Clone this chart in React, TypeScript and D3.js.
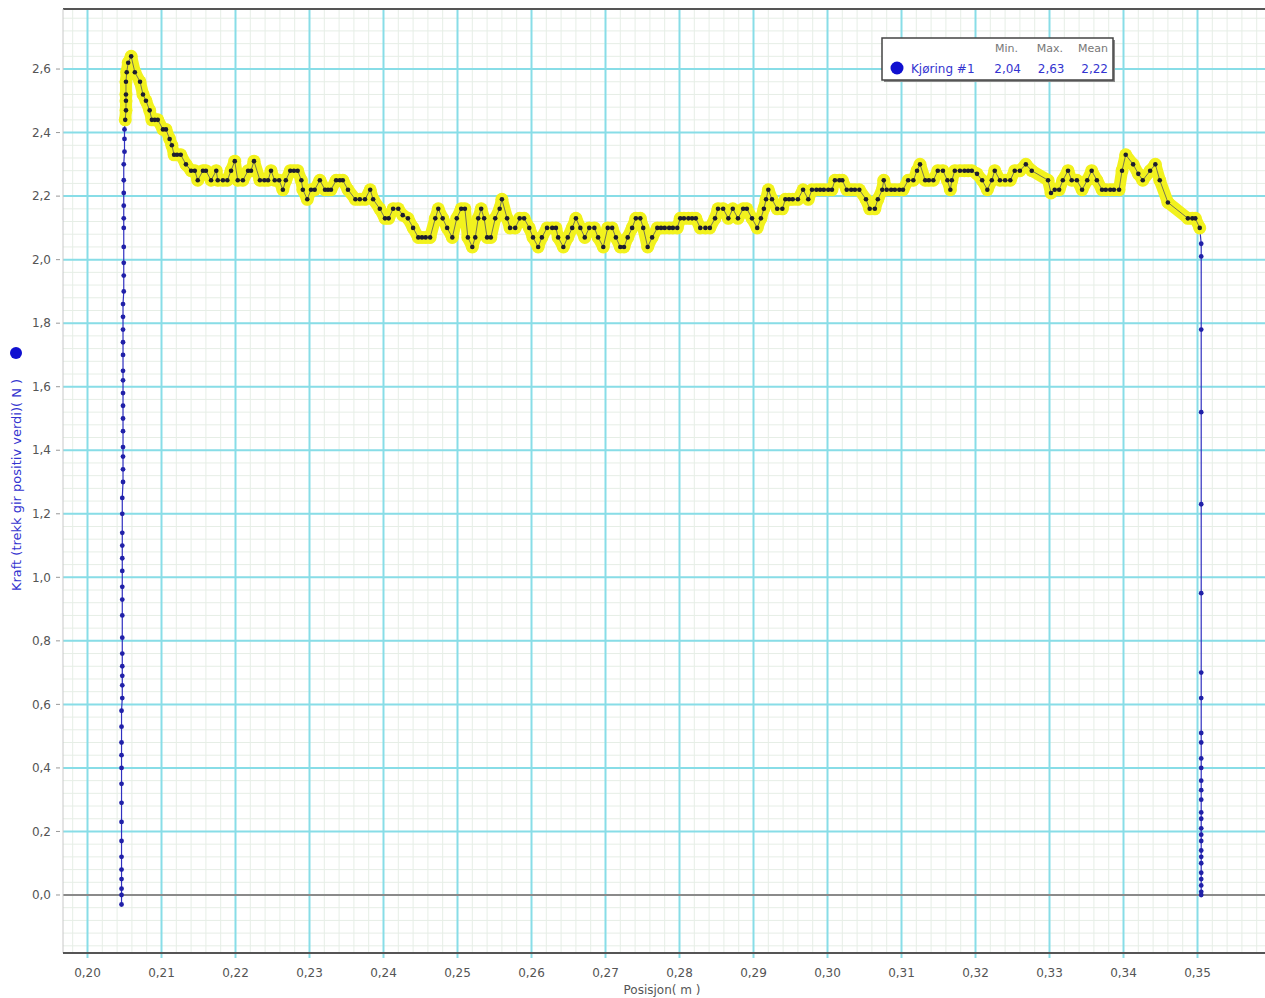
import * as d3 from 'd3'

// position (m) and force (N) samples
const risePos = [
  0.2046, 0.2046, 0.2046, 0.2046, 0.2046, 0.2046, 0.2046, 0.2046, 0.2046, 0.2046, 0.2046, 0.2046, 0.2046, 0.2046, 0.2046,
  0.2047, 0.2047, 0.2047, 0.2047, 0.2047, 0.2047, 0.2047, 0.2047, 0.2047, 0.2047, 0.2047, 0.2047, 0.2047, 0.2047, 0.2047,
  0.2048, 0.2048, 0.2048, 0.2048, 0.2048, 0.2048, 0.2048, 0.2048, 0.2048, 0.2048, 0.2048, 0.2048, 0.2048, 0.2048, 0.2048,
  0.2049, 0.2049, 0.2049, 0.2049, 0.2049, 0.2049, 0.2049, 0.2049, 0.2049, 0.2049, 0.2050, 0.2050, 0.2050,
]
const riseForce = [
  -0.03, 0.0, 0.02, 0.05, 0.08, 0.12, 0.17, 0.23, 0.29, 0.35, 0.4, 0.44, 0.48, 0.53, 0.58,
  0.62, 0.66, 0.69, 0.72, 0.76, 0.81, 0.88, 0.93, 0.97, 1.02, 1.06, 1.1, 1.14, 1.2, 1.25,
  1.3, 1.34, 1.38, 1.41, 1.46, 1.5, 1.54, 1.58, 1.62, 1.65, 1.7, 1.74, 1.78, 1.82, 1.86,
  1.9, 1.95, 1.99, 2.04, 2.1, 2.13, 2.17, 2.21, 2.25, 2.3, 2.34, 2.38, 2.41,
]

const selPos = [
  0.2051, 0.2052, 0.2052, 0.2052, 0.2052, 0.2053, 0.2055, 0.2059, 0.2064, 0.2071,
  0.2075, 0.2079, 0.2084, 0.2087, 0.2091, 0.2095, 0.2102, 0.2106, 0.2111, 0.2114,
  0.2117, 0.2121, 0.2126, 0.2133, 0.214, 0.2145, 0.2149, 0.2156, 0.216, 0.2167,
  0.2174, 0.2176, 0.2183, 0.2189, 0.2194, 0.2199, 0.2203, 0.221, 0.2217, 0.2221,
  0.2225, 0.2233, 0.2239, 0.2244, 0.2248, 0.2253, 0.2259, 0.2264, 0.2268, 0.2274,
  0.2279, 0.2284, 0.2289, 0.2291, 0.2297, 0.2302, 0.2307, 0.2314, 0.2321, 0.2325,
  0.2329, 0.2336, 0.2341, 0.2345, 0.2352, 0.2362, 0.2368, 0.2375, 0.2382, 0.2386,
  0.2395, 0.2402, 0.2407, 0.2413, 0.242, 0.2426, 0.2433, 0.244, 0.2447, 0.2452,
  0.2457, 0.2463, 0.247, 0.2474, 0.248, 0.2486, 0.2493, 0.2499, 0.2505, 0.251,
  0.2514, 0.252, 0.2524, 0.2528, 0.2532, 0.2536, 0.254, 0.2545, 0.2551, 0.2557,
  0.256, 0.2567, 0.2571, 0.2578, 0.2584, 0.259, 0.2597, 0.2602, 0.2609, 0.2614,
  0.2621, 0.2628, 0.2633, 0.2636, 0.2643, 0.2649, 0.2655, 0.266, 0.2666, 0.2672,
  0.2678, 0.2685, 0.269, 0.2697, 0.2703, 0.2709, 0.2714, 0.272, 0.2725, 0.273,
  0.2736, 0.2741, 0.2747, 0.2751, 0.2757, 0.2763, 0.277, 0.2775, 0.278, 0.2786,
  0.2791, 0.2797, 0.2801, 0.2806, 0.2812, 0.2817, 0.2822, 0.2828, 0.2835, 0.2841,
  0.2848, 0.2852, 0.2859, 0.2866, 0.2872, 0.2879, 0.2886, 0.2891, 0.2898, 0.2905,
  0.291, 0.2914, 0.2917, 0.292, 0.2925, 0.2932, 0.2939, 0.2943, 0.2948, 0.2953,
  0.296, 0.2967, 0.2974, 0.2979, 0.2985, 0.299, 0.2995, 0.3001, 0.3006, 0.301,
  0.3016, 0.302, 0.3026, 0.3032, 0.3037, 0.3043, 0.3052, 0.3057, 0.3064, 0.3068,
  0.3074, 0.3076, 0.308, 0.3086, 0.3091, 0.3097, 0.3102, 0.3109, 0.3116, 0.3121,
  0.3125, 0.3132, 0.3137, 0.3143, 0.3149, 0.3156, 0.3162, 0.3166, 0.3168, 0.3172,
  0.3179, 0.3185, 0.319, 0.3195, 0.3202, 0.3209, 0.3216, 0.3222, 0.3226, 0.3233,
  0.324, 0.3247, 0.3253, 0.326, 0.3268, 0.3276, 0.3298, 0.3302, 0.3307, 0.3313,
  0.3318, 0.3325, 0.333, 0.3337, 0.3344, 0.3351, 0.3357, 0.3364, 0.3371, 0.3376,
  0.3382, 0.3387, 0.3394, 0.3398, 0.3403, 0.3413, 0.342, 0.3426, 0.3436, 0.3443,
  0.3449, 0.346, 0.3487, 0.3493, 0.3497, 0.3503,
]
const selForce = [
  2.44, 2.47, 2.5, 2.52, 2.56, 2.59, 2.62, 2.64, 2.59, 2.56,
  2.52, 2.5, 2.47, 2.44, 2.44, 2.44, 2.41, 2.41, 2.38, 2.36,
  2.33, 2.33, 2.33, 2.3, 2.28, 2.28, 2.25, 2.28, 2.28, 2.25,
  2.28, 2.25, 2.25, 2.25, 2.28, 2.31, 2.25, 2.25, 2.28, 2.28,
  2.31, 2.25, 2.25, 2.25, 2.28, 2.25, 2.25, 2.22, 2.25, 2.28,
  2.28, 2.28, 2.25, 2.22, 2.19, 2.22, 2.22, 2.25, 2.22, 2.22,
  2.22, 2.25, 2.25, 2.25, 2.22, 2.19, 2.19, 2.19, 2.22, 2.19,
  2.16, 2.13, 2.13, 2.16, 2.16, 2.14, 2.13, 2.1, 2.07, 2.07,
  2.07, 2.07, 2.13, 2.16, 2.13, 2.1, 2.07, 2.13, 2.16, 2.16,
  2.07, 2.04, 2.07, 2.13, 2.16, 2.13, 2.07, 2.07, 2.13, 2.16,
  2.19, 2.13, 2.1, 2.1, 2.13, 2.13, 2.1, 2.07, 2.04, 2.07,
  2.1, 2.1, 2.1, 2.07, 2.04, 2.07, 2.1, 2.13, 2.1, 2.07,
  2.1, 2.1, 2.07, 2.04, 2.1, 2.1, 2.07, 2.04, 2.04, 2.07,
  2.1, 2.13, 2.13, 2.1, 2.04, 2.07, 2.1, 2.1, 2.1, 2.1,
  2.1, 2.1, 2.13, 2.13, 2.13, 2.13, 2.13, 2.1, 2.1, 2.1,
  2.13, 2.16, 2.16, 2.13, 2.16, 2.13, 2.16, 2.16, 2.13, 2.1,
  2.13, 2.16, 2.19, 2.22, 2.19, 2.16, 2.16, 2.19, 2.19, 2.19,
  2.19, 2.22, 2.19, 2.22, 2.22, 2.22, 2.22, 2.22, 2.22, 2.25,
  2.25, 2.25, 2.22, 2.22, 2.22, 2.22, 2.19, 2.16, 2.16, 2.19,
  2.22, 2.25, 2.22, 2.22, 2.22, 2.22, 2.22, 2.25, 2.25, 2.28,
  2.3, 2.25, 2.25, 2.25, 2.28, 2.28, 2.25, 2.22, 2.25, 2.28,
  2.28, 2.28, 2.28, 2.28, 2.27, 2.25, 2.22, 2.25, 2.28, 2.25,
  2.25, 2.25, 2.28, 2.28, 2.3, 2.28, 2.25, 2.21, 2.22, 2.22,
  2.25, 2.28, 2.25, 2.25, 2.22, 2.25, 2.28, 2.25, 2.22, 2.22,
  2.22, 2.22, 2.22, 2.28, 2.33, 2.3, 2.27, 2.25, 2.28, 2.3,
  2.25, 2.18, 2.13, 2.13, 2.13, 2.1,
]

const dropPos = 0.3505
const dropForce = [
  2.05, 2.01, 1.78, 1.52, 1.23, 0.95, 0.7, 0.62, 0.51, 0.48, 0.43, 0.4, 0.36, 0.33,
  0.3, 0.26, 0.24, 0.21, 0.19, 0.17, 0.14, 0.12, 0.1, 0.07, 0.05, 0.03, 0.01, 0.0,
]

const xTicks = [0.2, 0.21, 0.22, 0.23, 0.24, 0.25, 0.26, 0.27, 0.28, 0.29, 0.3, 0.31, 0.32, 0.33, 0.34, 0.35]
const yTicks = [0, 0.2, 0.4, 0.6, 0.8, 1.0, 1.2, 1.4, 1.6, 1.8, 2.0, 2.2, 2.4, 2.6]

const legendName = 'Kjøring #1'
const statHeads = ['Min.', 'Max.', 'Mean']
const statValues = ['2,04', '2,63', '2,22']

const W = 1265
const H = 998
const left = 63
const right = 1265
const top = 9
const bottom = 953

const font = '"DejaVu Sans", Verdana, sans-serif'
const comma = (v: number, d: number) => v.toFixed(d).replace('.', ',')

type Pt = { p: number; f: number }

export default function App() {
  const x = d3.scaleLinear().domain([0.19669, 0.35912]).range([left, right])
  const y = d3.scaleLinear().domain([-0.1826, 2.789]).range([bottom, top])

  const rise: Pt[] = risePos.map((p, i) => ({ p, f: riseForce[i] }))
  const sel: Pt[] = selPos.map((p, i) => ({ p, f: selForce[i] }))
  const drop: Pt[] = dropForce.map(f => ({ p: dropPos, f }))
  const all = [...rise, ...sel, ...drop]

  const line = d3
    .line<Pt>()
    .x(d => x(d.p))
    .y(d => y(d.f))

  const minorX = d3.range(0.198, 0.3591, 0.002)
  const minorY = d3.range(-0.16, 2.79, 0.04)

  return (
    <svg
      width={W}
      height={H}
      style={{ position: 'absolute', left: 0, top: 0, background: '#fff' }}
      fontFamily={font}
    >
      <defs>
        <clipPath id="plot">
          <rect x={left} y={top} width={right - left} height={bottom - top} />
        </clipPath>
      </defs>
      <rect x={left} y={top} width={right - left} height={bottom - top} fill="#fff" />

      {/* minor grid */}
      <g stroke="#e6eee6" strokeWidth={1}>
        {minorX.map((v, i) => (
          <line key={'mx' + i} x1={x(v)} x2={x(v)} y1={top} y2={bottom} />
        ))}
        {minorY.map((v, i) => (
          <line key={'my' + i} x1={left} x2={right} y1={y(v)} y2={y(v)} />
        ))}
      </g>

      {/* major grid */}
      <g stroke="#88dde7" strokeWidth={2}>
        {xTicks.map(v => (
          <line key={'gx' + v} x1={x(v)} x2={x(v)} y1={top} y2={bottom + 5} />
        ))}
        {yTicks.map(v => (
          <line key={'gy' + v} x1={left} x2={right} y1={y(v)} y2={y(v)} />
        ))}
      </g>

      {/* zero line, frame */}
      <line x1={left} x2={right} y1={y(0)} y2={y(0)} stroke="#8a8a8a" strokeWidth={2} />
      <line x1={left} x2={right} y1={top} y2={top} stroke="#555" strokeWidth={2} />
      <line x1={left} x2={left} y1={top} y2={bottom} stroke="#c8c8c8" strokeWidth={1} />
      <line x1={left} x2={right} y1={bottom} y2={bottom} stroke="#555" strokeWidth={2} />

      {/* ticks */}
      <g fontSize={12} fill="#555">
        {yTicks.map(v => (
          <g key={'ty' + v}>
            <line x1={left - 7} x2={left - 3} y1={y(v)} y2={y(v)} stroke="#999" />
            <text x={51} y={y(v)} dy="0.35em" textAnchor="end">
              {comma(v, 1)}
            </text>
          </g>
        ))}
        {xTicks.map(v => (
          <text key={'tx' + v} x={x(v)} y={977} textAnchor="middle">
            {comma(v, 2)}
          </text>
        ))}
      </g>

      {/* axis titles */}
      <text x={662} y={994} textAnchor="middle" fontSize={12} fill="#555">
        Posisjon( m )
      </text>
      <circle cx={16} cy={353} r={6} fill="#1010d0" />
      <text
        transform="translate(21,485) rotate(-90)"
        textAnchor="middle"
        fontSize={13}
        fill="#3434d0"
      >
        Kraft (trekk gir positiv verdi)( N )
      </text>

      {/* data */}
      <g clipPath="url(#plot)">
        <path d={line(all) ?? ''} fill="none" stroke="#3030c0" strokeWidth={1.2} />
        <path
          d={line(sel) ?? ''}
          fill="none"
          stroke="#f2f21e"
          strokeWidth={12}
          strokeLinejoin="round"
          strokeLinecap="round"
        />
        {sel.map((d, i) => (
          <circle key={'ys' + i} cx={x(d.p)} cy={y(d.f)} r={6.5} fill="#f2f21e" />
        ))}
        <path d={line(sel) ?? ''} fill="none" stroke="#555560" strokeWidth={0.8} />
        {[...rise, ...drop].map((d, i) => (
          <circle key={'b' + i} cx={x(d.p)} cy={y(d.f)} r={2.4} fill="#2020a8" />
        ))}
        {sel.map((d, i) => (
          <circle key={'s' + i} cx={x(d.p)} cy={y(d.f)} r={2.3} fill="#1c1c30" />
        ))}
      </g>

      {/* legend */}
      <g fontSize={12}>
        <rect x={884} y={40} width={231} height={42} fill="#888" />
        <rect x={882} y={38} width={231} height={42} fill="#fff" stroke="#444" strokeWidth={1.5} />
        {statHeads.map((h, i) => (
          <text key={h} x={1018 + i * 45} y={52} textAnchor="end" fontSize={11} fill="#777">
            {h}
          </text>
        ))}
        <circle cx={897} cy={68} r={6.5} fill="#1010d0" />
        <text x={911} y={73} fill="#3434d0">
          {legendName}
        </text>
        {statValues.map((v, i) => (
          <text key={'v' + i} x={1021 + i * 43.5} y={73} textAnchor="end" fill="#3434d0">
            {v}
          </text>
        ))}
      </g>
    </svg>
  )
}
